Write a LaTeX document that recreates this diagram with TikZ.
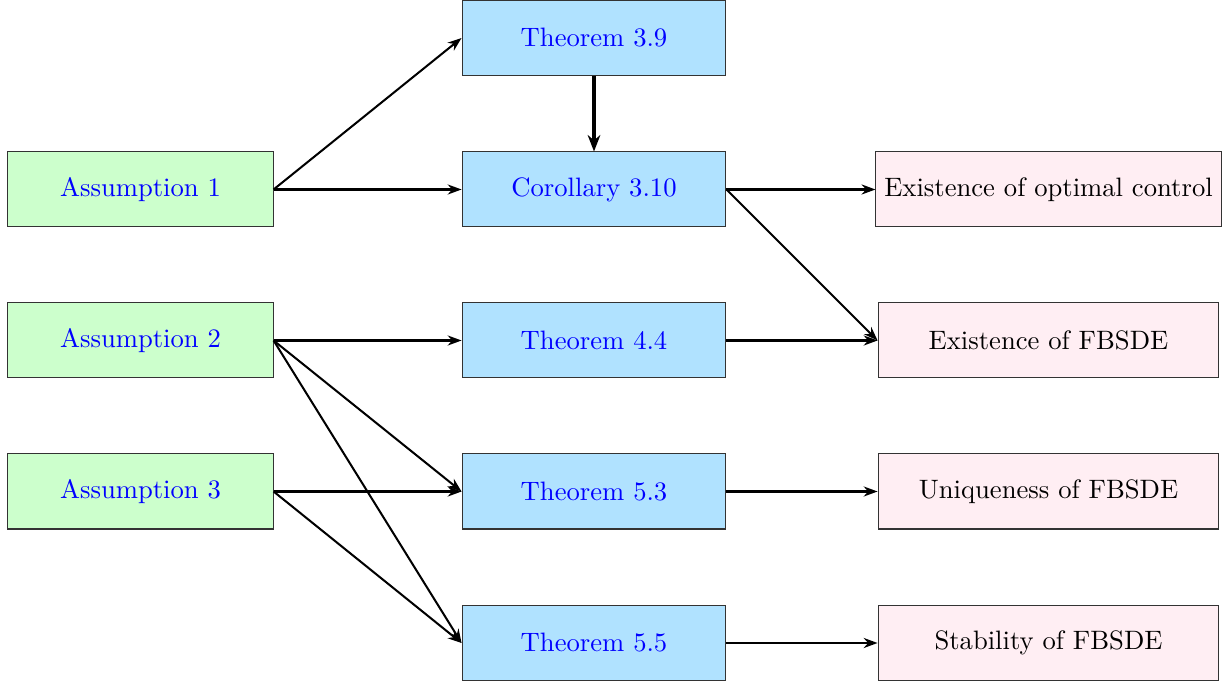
\documentclass[tikz,border=0pt]{standalone}
\usetikzlibrary{arrows.meta}
\definecolor{asmfill}{RGB}{204,255,204}
\definecolor{thmfill}{RGB}{176,226,255}
\definecolor{resfill}{RGB}{255,238,243}
\begin{document}
\begin{tikzpicture}[x=0.396pt,y=-0.396pt,
  box/.style={draw=black!80,line width=0.4pt,minimum height=29.7pt,inner sep=3.3pt,anchor=center,font=\fontsize{10.55}{12.7}\selectfont},
  asm/.style={box,fill=asmfill,minimum width=105pt,text=blue},
  thm/.style={box,fill=thmfill,minimum width=104.5pt,text=blue},
  res/.style={box,fill=resfill,minimum width=135pt},
  arr/.style={-{Stealth[length=5.5pt,width=4pt]},line width=0.8pt},
  bigarr/.style={-{Stealth[length=6.5pt,width=5pt]},line width=1.4pt}]
\useasboundingbox (0,0) rectangle (1227,683);
\node[asm] (a1) at (140.5,189.5) {Assumption 1};
\node[asm] (a2) at (140.5,340.5) {Assumption 2};
\node[asm] (a3) at (140.5,491.5) {Assumption 3};
\node[thm] (t39) at (594,38) {Theorem 3.9};
\node[thm] (c310) at (594,189.5) {Corollary 3.10};
\node[thm] (t44) at (594,340.5) {Theorem 4.4};
\node[thm] (t53) at (594,491.5) {Theorem 5.3};
\node[thm] (t55) at (594,643) {Theorem 5.5};
\node[res] (r1) at (1048.5,189.5) {Existence of optimal control};
\node[res] (r2) at (1048.5,340.5) {Existence of FBSDE};
\node[res] (r3) at (1048.5,491.5) {Uniqueness of FBSDE};
\node[res] (r4) at (1048.5,643) {Stability of FBSDE};
\draw[arr] (a1.east) -- (t39.west);
\draw[arr] (a1.east) -- (c310.west);
\draw[bigarr] (t39.south) -- (c310.north);
\draw[arr] (a2.east) -- (t44.west);
\draw[arr] (a2.east) -- (t53.west);
\draw[arr] (a2.east) -- (t55.west);
\draw[arr] (a3.east) -- (t53.west);
\draw[arr] (a3.east) -- (t55.west);
\draw[arr] (c310.east) -- (r1.west);
\draw[arr] (c310.east) -- (r2.west);
\draw[arr] (t44.east) -- (r2.west);
\draw[arr] (t53.east) -- (r3.west);
\draw[arr] (t55.east) -- (r4.west);
\end{tikzpicture}
\end{document}
